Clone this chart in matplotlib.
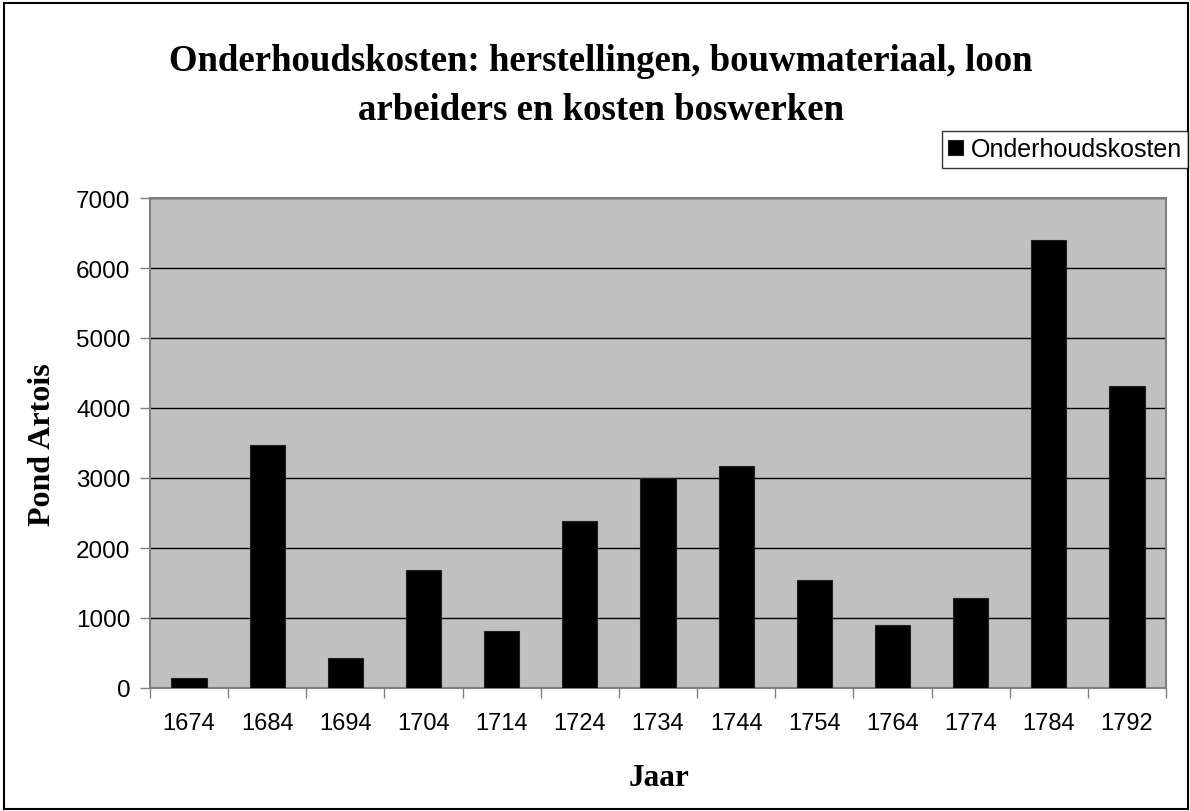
import matplotlib
matplotlib.use("Agg")
import matplotlib.pyplot as plt
from matplotlib.patches import Rectangle
import numpy as np

years = ["1674", "1684", "1694", "1704", "1714", "1724", "1734",
         "1744", "1754", "1764", "1774", "1784", "1792"]
costs = [145, 3470, 425, 1680, 820, 2380, 2995, 3165, 1540, 900, 1290, 6395, 4310]
yticks = [0, 1000, 2000, 3000, 4000, 5000, 6000, 7000]

W, H = 1190, 812
fig = plt.figure(figsize=(W / 100, H / 100), dpi=100)
fig.patch.set_facecolor("white")

left, right, top, bottom = 150, 1166, 199, 689
ax = fig.add_axes([left / W, 1 - bottom / H, (right - left) / W, (bottom - top) / H])
ax.set_facecolor("#C0C0C0")

x = np.arange(len(years))
ax.bar(x, costs, width=0.45, color="black", edgecolor="#202020", linewidth=0.8,
       label="Onderhoudskosten", zorder=3)

ax.set_xlim(-0.5, len(years) - 0.5)
ax.set_ylim(0, 7000)
ax.set_yticks(yticks)
ax.set_yticklabels([str(v) for v in yticks], fontfamily="Liberation Sans", fontsize=17.5)
ax.yaxis.grid(True, color="black", linewidth=1.0, zorder=1)
ax.set_axisbelow(True)

ax.set_xticks(np.arange(-0.5, len(years) + 0.5, 1.0))
ax.set_xticklabels([])
ax.set_xticks(x, minor=True)
ax.set_xticklabels(years, minor=True, fontfamily="Liberation Sans", fontsize=17)
ax.tick_params(axis="x", which="minor", length=0, pad=17)
ax.tick_params(axis="x", which="major", length=7, width=1, color="#808080", direction="out")
ax.tick_params(axis="y", length=7, width=1, color="#808080", direction="out", pad=7)

for s in ax.spines.values():
    s.set_color("#808080")
    s.set_linewidth(1.5)

fig.text(42.5 / W, 1 - 444.5 / H, "Pond Artois", rotation=90, ha="center", va="center",
         fontfamily="Liberation Serif", fontweight="bold", fontsize=23)
fig.text(659 / W, 1 - 786 / H, "Jaar", ha="center", va="baseline",
         fontfamily="Liberation Serif", fontweight="bold", fontsize=22.5)

fig.text(601 / W, 1 - 71 / H, "Onderhoudskosten: herstellingen, bouwmateriaal, loon",
         ha="center", va="baseline", fontfamily="Liberation Serif", fontweight="bold",
         fontsize=26.5)
fig.text(601 / W, 1 - 120 / H, "arbeiders en kosten boswerken",
         ha="center", va="baseline", fontfamily="Liberation Serif", fontweight="bold",
         fontsize=26.5)

leg = fig.legend(loc="upper right", bbox_to_anchor=(1188 / W, 1 - 132 / H),
                 prop={"family": "Liberation Sans", "size": 18},
                 frameon=True, fancybox=False, edgecolor="black",
                 handlelength=0.6, handleheight=0.6, handletextpad=0.3,
                 borderpad=0.25, borderaxespad=0)
leg.get_frame().set_linewidth(1.0)

fig.patches.append(Rectangle((4 / W, 2 / H), (W - 6) / W, (H - 6) / H,
                             transform=fig.transFigure, fill=False,
                             edgecolor="black", linewidth=1.5))

fig.savefig("out.png", dpi=100)
